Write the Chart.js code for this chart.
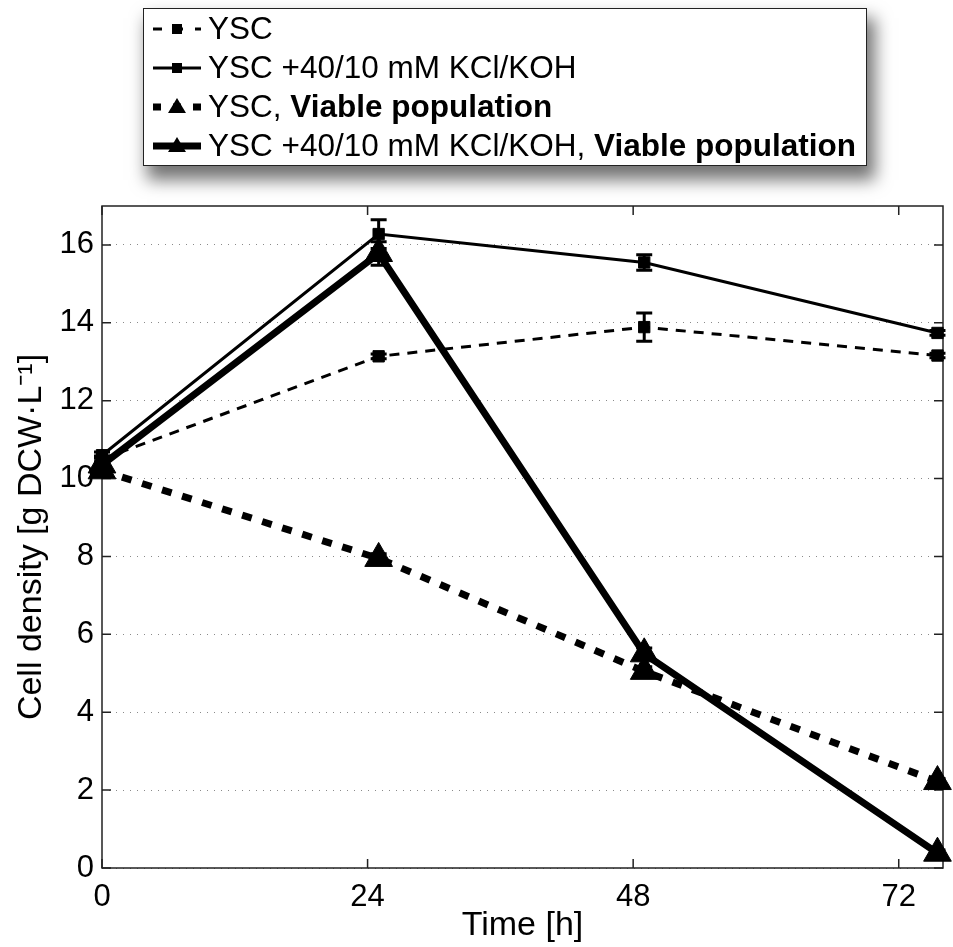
<!DOCTYPE html>
<html>
<head>
<meta charset="utf-8">
<script src="https://cdn.jsdelivr.net/npm/chart.js@4.4.1/dist/chart.umd.min.js"></script>
<style>
  body { margin: 0; background: #fff; }
  #wrap { position: relative; width: 953px; height: 947px; }
  #legend {
    position: absolute; left: 143px; top: 8px; width: 724px; height: 158px;
    box-sizing: border-box; border: 1.5px solid #222; background: #fff;
    box-shadow: 6px 12px 16px 2px rgba(0,0,0,0.55);
    font-family: "Liberation Sans", Arial, Helvetica, sans-serif; font-size: 31.5px; color: #000;
    padding-top: 0px; z-index: 2;
  }
  .row { height: 39px; display: flex; align-items: center; padding-left: 8px; white-space: nowrap; }
  .row svg { width: 50px; height: 30px; margin-right: 6px; flex: none; }
  .row b { font-weight: bold; }
</style>
</head>
<body>
<div id="wrap">
  <canvas id="cellChart" width="953" height="947"></canvas>
  <div id="legend">
    <div class="row">
      <svg viewBox="0 0 50 30"><line x1="1" y1="15" x2="49" y2="15" stroke="#000" stroke-width="3" stroke-dasharray="9 12"/><rect x="20" y="10" width="10" height="10" fill="#000"/></svg>
      <span>YSC</span>
    </div>
    <div class="row">
      <svg viewBox="0 0 50 30"><line x1="1" y1="15" x2="49" y2="15" stroke="#000" stroke-width="3"/><rect x="20" y="10" width="10" height="10" fill="#000"/></svg>
      <span>YSC +40/10 mM KCl/KOH</span>
    </div>
    <div class="row">
      <svg viewBox="0 0 50 30"><line x1="1" y1="15" x2="49" y2="15" stroke="#000" stroke-width="7" stroke-dasharray="8 12"/><polygon points="25,6 34,21 16,21" fill="#000"/></svg>
      <span>YSC, <b>Viable population</b></span>
    </div>
    <div class="row">
      <svg viewBox="0 0 50 30"><line x1="1" y1="15" x2="49" y2="15" stroke="#000" stroke-width="7"/><polygon points="25,6 34,21 16,21" fill="#000"/></svg>
      <span>YSC +40/10 mM KCl/KOH, <b>Viable population</b></span>
    </div>
  </div>
</div>
<script>
// sampling times [h]
var times = [0, 25, 49, 75.5];

// total cell density [g DCW/L]
var ysc = [10.5, 13.14, 13.89, 13.16];
var yscErr = [0.08, 0.06, 0.36, 0.06];
var yscKcl = [10.6, 16.28, 15.55, 13.74];
var yscKclErr = [0.08, 0.37, 0.2, 0.06];

// viable population
var yscViable = [10.2, 7.95, 5.05, 2.22];
var yscViableErr = [0.08, 0.12, 0.12, 0.08];
var yscKclViable = [10.35, 15.78, 5.5, 0.38];
var yscKclViableErr = [0.08, 0.3, 0.15, 0.08];

var xTicks = [0, 24, 48, 72];
var yTicks = [0, 2, 4, 6, 8, 10, 12, 14, 16];

var font = "'Liberation Sans', Arial, Helvetica, sans-serif";

function points(vals) {
  return times.map(function(t, i) { return { x: t, y: vals[i] }; });
}

// box, inward ticks
var framePlugin = {
  id: "frame",
  beforeDatasetsDraw: function(chart) {
    var ctx = chart.ctx, a = chart.chartArea;
    var xs = chart.scales.x, ys = chart.scales.y;
    ctx.save();
    ctx.strokeStyle = "#222";
    ctx.lineWidth = 1.5;
    ctx.strokeRect(a.left, a.top, a.right - a.left, a.bottom - a.top);
    ctx.beginPath();
    xTicks.forEach(function(v) {
      var px = xs.getPixelForValue(v);
      ctx.moveTo(px, a.bottom); ctx.lineTo(px, a.bottom - 9);
      ctx.moveTo(px, a.top); ctx.lineTo(px, a.top + 9);
    });
    yTicks.forEach(function(v) {
      var py = ys.getPixelForValue(v);
      ctx.moveTo(a.left, py); ctx.lineTo(a.left + 9, py);
      ctx.moveTo(a.right, py); ctx.lineTo(a.right - 9, py);
    });
    ctx.stroke();
    ctx.restore();
  }
};

var errorBarPlugin = {
  id: "errorBars",
  afterDatasetDraw: function(chart, args) {
    var ds = chart.data.datasets[args.index];
    if (!ds.errors) return;
    var ctx = chart.ctx, xs = chart.scales.x, ys = chart.scales.y;
    ctx.save();
    ctx.strokeStyle = "#000";
    ctx.lineWidth = 3;
    ctx.setLineDash([]);
    ds.data.forEach(function(p, i) {
      var e = ds.errors[i];
      var px = xs.getPixelForValue(p.x);
      var top = ys.getPixelForValue(p.y + e), bot = ys.getPixelForValue(p.y - e);
      ctx.beginPath();
      ctx.moveTo(px, top); ctx.lineTo(px, bot);
      ctx.moveTo(px - 8, top); ctx.lineTo(px + 8, top);
      ctx.moveTo(px - 8, bot); ctx.lineTo(px + 8, bot);
      ctx.stroke();
    });
    ctx.restore();
  }
};

var ctx = document.getElementById("cellChart").getContext("2d");
var myChart = new Chart(ctx, {
  type: "line",
  data: {
    datasets: [
      {
        label: "YSC",
        data: points(ysc),
        errors: yscErr,
        borderColor: "#000",
        borderWidth: 3,
        borderDash: [10, 8],
        pointStyle: "rect",
        pointRadius: 8,
        pointBackgroundColor: "#000",
        pointBorderColor: "#000",
        pointBorderWidth: 1,
        order: 4,
        clip: false
      },
      {
        label: "YSC +40/10 mM KCl/KOH",
        data: points(yscKcl),
        errors: yscKclErr,
        borderColor: "#000",
        borderWidth: 3,
        pointStyle: "rect",
        pointRadius: 8,
        pointBackgroundColor: "#000",
        pointBorderColor: "#000",
        pointBorderWidth: 1,
        order: 3,
        clip: false
      },
      {
        label: "YSC, Viable population",
        data: points(yscViable),
        errors: yscViableErr,
        borderColor: "#000",
        borderWidth: 7,
        borderDash: [10, 11],
        pointStyle: "triangle",
        pointRadius: 16,
        pointBackgroundColor: "#000",
        pointBorderColor: "#000",
        pointBorderWidth: 1,
        order: 2,
        clip: false
      },
      {
        label: "YSC +40/10 mM KCl/KOH, Viable population",
        data: points(yscKclViable),
        errors: yscKclViableErr,
        borderColor: "#000",
        borderWidth: 7,
        pointStyle: "triangle",
        pointRadius: 16,
        pointBackgroundColor: "#000",
        pointBorderColor: "#000",
        pointBorderWidth: 1,
        order: 1,
        clip: false
      }
    ]
  },
  options: {
    responsive: false,
    animation: false,
    layout: { autoPadding: false, padding: { top: 206, right: 10, left: 0, bottom: 0 } },
    plugins: { legend: { display: false }, tooltip: { enabled: false } },
    elements: { line: { tension: 0 } },
    scales: {
      x: {
        type: "linear",
        min: 0,
        max: 76,
        afterBuildTicks: function(axis) {
          axis.ticks = xTicks.map(function(v) { return { value: v }; });
        },
        afterFit: function(axis) { axis.height = 79; },
        grid: { display: false },
        border: { display: false },
        ticks: { color: "#000", padding: 3, maxRotation: 0, font: { family: font, size: 31 } },
        title: {
          display: true,
          text: "Time [h]",
          color: "#000",
          padding: { top: 0, bottom: 1 },
          font: { family: font, size: 34 }
        }
      },
      y: {
        type: "linear",
        min: 0,
        max: 17,
        afterBuildTicks: function(axis) {
          axis.ticks = yTicks.map(function(v) { return { value: v }; });
        },
        afterFit: function(axis) { axis.width = 102; },
        grid: { color: "#8a8a8a", lineWidth: 1, drawTicks: false },
        border: { display: false, dash: [1, 6] },
        ticks: { color: "#000", padding: 8, font: { family: font, size: 31 } },
        title: {
          display: true,
          text: "Cell density [g DCW\u00b7L\u207b\u00b9]",
          color: "#000",
          padding: { top: 11, bottom: 0 },
          font: { family: font, size: 34 }
        }
      }
    }
  },
  plugins: [framePlugin, errorBarPlugin]
});
</script>
</body>
</html>
